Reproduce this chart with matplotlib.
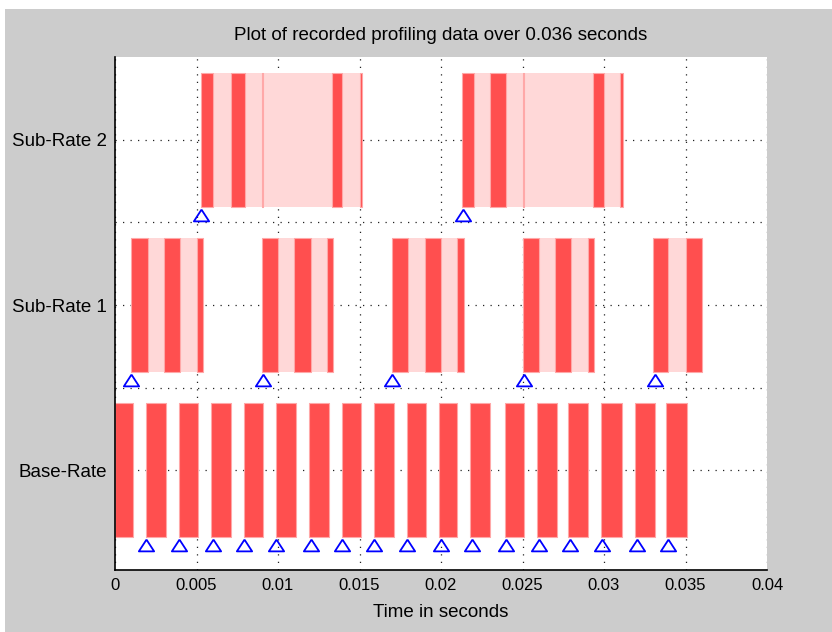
import numpy as np
import matplotlib.pyplot as plt
from matplotlib.patches import Rectangle

plt.rcParams['font.family'] = ['Liberation Sans', 'DejaVu Sans']

## Rows of the chart
row_pos = [1, 2, 3]
row_labels = ['Base-Rate', 'Sub-Rate 1', 'Sub-Rate 2']

## Base-Rate task: run intervals [s] and trigger times
base_start = [0.0000, 0.0019, 0.0039, 0.0059, 0.0079, 0.0099, 0.0119, 0.0139, 0.0159,
              0.0179, 0.0199, 0.0218, 0.0239, 0.0259, 0.0278, 0.0298, 0.0319, 0.0338]
base_end = [0.0011, 0.0031, 0.0051, 0.0071, 0.0091, 0.0111, 0.0131, 0.0151, 0.0171,
            0.0191, 0.0210, 0.0230, 0.0251, 0.0271, 0.0290, 0.0311, 0.0331, 0.0351]
base_trig = [0.0019, 0.0039, 0.0060, 0.0079, 0.0099, 0.0120, 0.0139, 0.0159, 0.0179,
             0.0200, 0.0219, 0.0240, 0.0260, 0.0279, 0.0299, 0.0320, 0.0339]

## Sub-Rate 1 task: whole span (light) and running slices (dark)
sr1_span_start = [0.0010, 0.0090, 0.0170, 0.0250, 0.0330]
sr1_span_end = [0.0054, 0.0134, 0.0214, 0.0294, 0.0360]
sr1_run_start = [0.0010, 0.0030, 0.0050, 0.0090, 0.0110, 0.0130, 0.0170, 0.0190, 0.0210,
                 0.0250, 0.0270, 0.0290, 0.0330, 0.0350]
sr1_run_end = [0.0020, 0.0040, 0.0054, 0.0100, 0.0120, 0.0134, 0.0180, 0.0200, 0.0214,
               0.0260, 0.0280, 0.0294, 0.0339, 0.0360]
sr1_trig = [0.0010, 0.0091, 0.0170, 0.0251, 0.0331]

## Sub-Rate 2 task
sr2_span_start = [0.0053, 0.0213]
sr2_span_end = [0.01515, 0.03117]
sr2_run_start = [0.0053, 0.0071, 0.0090, 0.0133, 0.0150,
                 0.0213, 0.0230, 0.0250, 0.0293, 0.0310]
sr2_run_end = [0.0060, 0.0080, 0.0091, 0.0139, 0.01515,
               0.0220, 0.0240, 0.0251, 0.0300, 0.03117]
sr2_trig = [0.0053, 0.02135]

x_ticks = [0, 0.005, 0.01, 0.015, 0.02, 0.025, 0.03, 0.035, 0.04]
x_tick_labels = ['0', '0.005', '0.01', '0.015', '0.02', '0.025', '0.03', '0.035', '0.04']

dark = '#ff4f4f'
dark_edge = '#ffa8a8'
light = '#ffd8d8'
bar_h = 0.81
trig_off = 0.455

fig = plt.figure(figsize=(8.32, 6.32), dpi=100, facecolor='#cccccc')
fig.patches.append(Rectangle((0, 1 - 9 / 632), 1, 9 / 632, transform=fig.transFigure,
                             facecolor='white', edgecolor='none', zorder=-1))
fig.patches.append(Rectangle((0, 0), 5 / 832, 1, transform=fig.transFigure,
                             facecolor='white', edgecolor='none', zorder=-1))

ax = fig.add_axes([115 / 832, 62 / 632, 652 / 832, 513 / 632])


def spans(starts, ends):
    return [(s, e - s) for s, e in zip(starts, ends)]


# Base-Rate
ax.broken_barh(spans(base_start, base_end), (row_pos[0] - bar_h / 2, bar_h),
               facecolors=dark, edgecolors=dark_edge, linewidth=0.8, zorder=2)
# Sub-Rate 1
ax.broken_barh(spans(sr1_span_start, sr1_span_end), (row_pos[1] - bar_h / 2, bar_h),
               facecolors=light, edgecolors='none', zorder=2)
ax.broken_barh(spans(sr1_run_start, sr1_run_end), (row_pos[1] - bar_h / 2, bar_h),
               facecolors=dark, edgecolors=dark_edge, linewidth=0.8, zorder=3)
# Sub-Rate 2
ax.broken_barh(spans(sr2_span_start, sr2_span_end), (row_pos[2] - bar_h / 2, bar_h),
               facecolors=light, edgecolors='none', zorder=2)
ax.broken_barh(spans(sr2_run_start, sr2_run_end), (row_pos[2] - bar_h / 2, bar_h),
               facecolors=dark, edgecolors=dark_edge, linewidth=0.8, zorder=3)

# trigger markers (open triangles)
tri = [(0, 1), (-1.3, -1), (1.3, -1), (0, 1)]
for trig, y in zip([base_trig, sr1_trig, sr2_trig], row_pos):
    ax.plot(trig, [y - trig_off] * len(trig), linestyle='none', marker=tri,
            markersize=11, markerfacecolor='none', markeredgecolor='#0000ff',
            markeredgewidth=1.3, zorder=4, clip_on=False)

ax.set_xlim(0, 0.04)
ax.set_ylim(0.394, 3.503)
ax.set_xticks(x_ticks)
ax.set_xticklabels(x_tick_labels, fontsize=12)
ax.set_yticks([1, 1.5, 2, 2.5, 3])
ax.set_yticklabels(['Base-Rate', '', 'Sub-Rate 1', '', 'Sub-Rate 2'], fontsize=13.5)
ax.tick_params(length=0)
ax.tick_params(axis='x', pad=6)
ax.tick_params(axis='y', pad=6)

ax.grid(True, linestyle=(0, (1, 5)), color='#222222', linewidth=0.9)
ax.set_axisbelow(True)
ax.spines['top'].set_visible(False)
ax.spines['right'].set_visible(False)
ax.spines['left'].set_linewidth(1.2)
ax.spines['bottom'].set_linewidth(1.2)

ax.set_xlabel('Time in seconds', fontsize=13.5, labelpad=8)
fig.text(441 / 832, 1 - 36 / 632, 'Plot of recorded profiling data over 0.036 seconds',
         ha='center', va='center', fontsize=13.5)

plt.savefig('out.png', dpi=100, facecolor=fig.get_facecolor())
